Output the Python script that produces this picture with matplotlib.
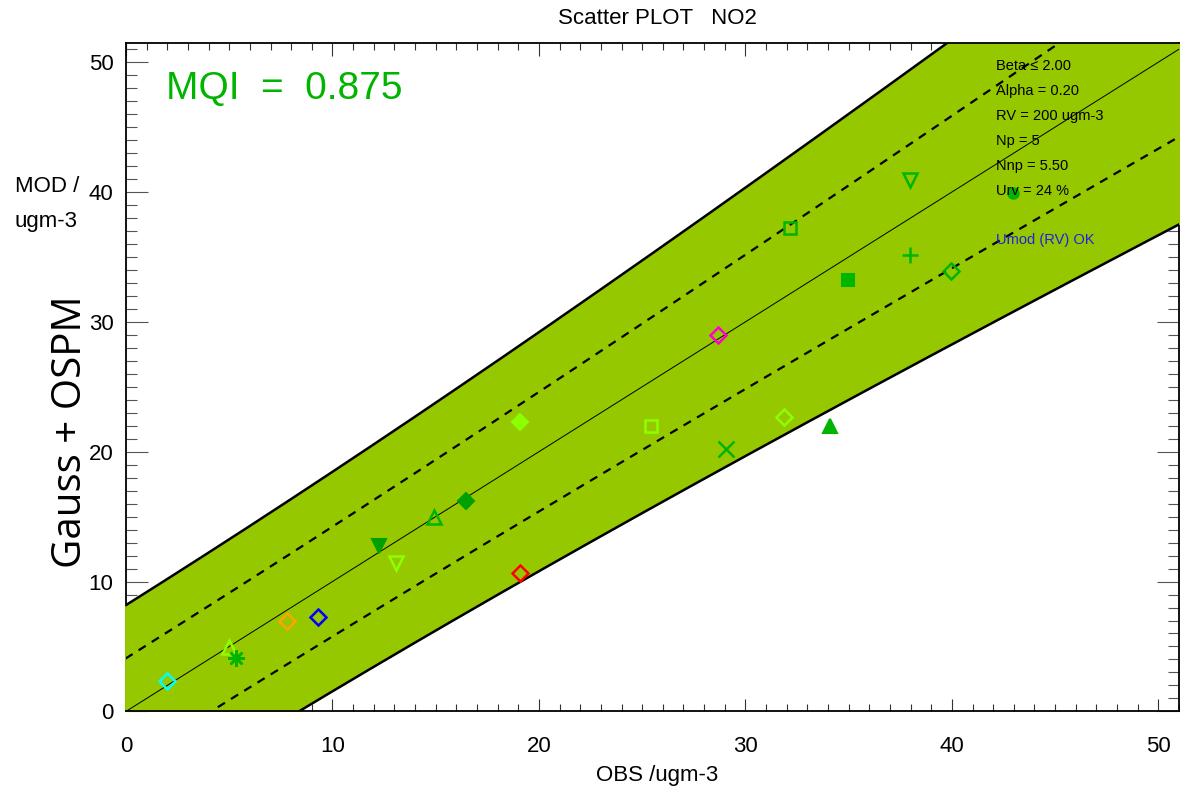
import numpy as np
import matplotlib
matplotlib.use("Agg")
import matplotlib.pyplot as plt

# uncertainty parameters (shown in the info box)
beta = 2.0
alpha = 0.20
rv = 200.0
n_p = 5
n_np = 5.5
u_rv = 0.24
mqi = 0.875

# station yearly means: observed vs modelled
obs = [2.0, 5.0, 5.33, 7.8, 9.28, 12.25, 13.07, 14.9, 16.45, 19.07, 19.1,
       25.43, 28.66, 29.08, 31.89, 34.08, 32.16, 34.97, 37.97, 37.97, 39.96, 42.95]
mod = [2.35, 4.94, 4.14, 6.97, 7.25, 12.77, 11.45, 14.96, 16.24, 22.28, 10.64,
       22.0, 29.0, 20.2, 22.71, 22.0, 37.23, 33.25, 40.96, 35.12, 33.89, 39.93]

# symbol per station
symbols = ["D", "^", (8, 2, 0), "D", "D", "v", "v", "^", "D", "D", "D",
           "s", "D", "x", "D", "^", "s", "s", "v", "+", "D", "o"]
colors = ["#00FFFF", "#8CFF00", "#00B400", "#FFA500", "#0000FF", "#00A000", "#8CFF00",
          "#00B400", "#00A000", "#8CFF00", "#FF0000", "#8CFF00", "#FF00C8", "#00B400",
          "#8CFF00", "#00B400", "#00B400", "#00B400", "#00B400", "#00B400", "#00B400",
          "#00B400"]
filled = [False, False, True, False, False, True, False, False, True, True, False,
          False, False, True, False, True, False, True, False, True, False, True]
sizes = {"D": 8.3, "^": 9.5, "v": 9.5, "s": 8.5, "o": 7.5, "x": 11, "+": 11.5}

info = ["Beta \u2264 2.00", "Alpha = 0.20", "RV = 200 ugm-3", "Np = 5",
        "Nnp = 5.50", "Urv = 24 %"]

plt.rcParams["font.family"] = ["Liberation Sans", "DejaVu Sans"]

W, H = 1180, 792
XMAX, YMAX = 51, 51.5
fig = plt.figure(figsize=(W / 100, H / 100), dpi=100)
ax = fig.add_axes([126 / W, 1 - 711.4 / H, 1053 / W, (711.4 - 42.7) / H])
ax.set_xlim(0, XMAX)
ax.set_ylim(0, YMAX)

# acceptance band: |M - O| <= beta * U(O)
o = np.linspace(-0.07, XMAX + 0.07, 1201)
unc = u_rv * np.sqrt((1 - alpha ** 2) * o ** 2 / n_p + alpha ** 2 * rv ** 2 / n_np)
up = np.clip(o + beta * unc, 0, YMAX)
lo = np.clip(o - beta * unc, 0, YMAX)

# band drawn slightly past the frame so it hides the side axes
ax.fill_between(o, lo, up, color="#96C800", lw=0, zorder=3, clip_on=False)
ax.plot(o, o + beta * unc, color="black", lw=1.8, zorder=3.1)
ax.plot(o, o - beta * unc, color="black", lw=1.8, zorder=3.1)
ax.plot(o, o + unc, color="black", lw=1.6, ls=(0, (3.8, 3.2)), zorder=3.2)
ax.plot(o, o - unc, color="black", lw=1.6, ls=(0, (3.8, 3.2)), zorder=3.2)
ax.plot(o, o, color="black", lw=0.7, zorder=3.2)

for x, y, m, c, f in zip(obs, mod, symbols, colors, filled):
    if isinstance(m, tuple):
        ax.plot(x, y, marker=m, ms=12, mew=1.8, color=c, ls="none", zorder=4)
    elif m in ("x", "+"):
        ax.plot(x, y, marker=m, ms=sizes[m], mew=1.8, color=c, ls="none", zorder=4)
    elif f:
        ax.plot(x, y, marker=m, ms=sizes[m], mew=1.5, mec=c, mfc=c, ls="none", zorder=4)
    else:
        ax.plot(x, y, marker=m, ms=sizes[m], mew=1.8, mec=c, mfc="none", ls="none", zorder=4)

# frame and ticks
for side in ("top", "bottom"):
    ax.spines[side].set_zorder(5)
for sp in ax.spines.values():
    sp.set_linewidth(1.3)
ax.set_xticks(np.arange(0, 51, 10))
ax.set_yticks(np.arange(0, 51, 10))
ax.set_xticks(np.arange(0, 52, 1), minor=True)
ax.set_yticks(np.arange(0, 52, 1), minor=True)
ax.tick_params(axis="x", which="major", direction="in", length=9, width=0.8,
               top=True, labelsize=16, pad=18, color="#333333")
ax.tick_params(axis="x", which="minor", direction="in", length=5, width=0.8,
               top=True, color="#333333")
ax.tick_params(axis="y", which="major", direction="in", length=16, width=0.8,
               right=True, labelsize=16, pad=9, color="#555555")
ax.tick_params(axis="y", which="minor", direction="in", length=8, width=0.8,
               right=True, color="#555555")

ax.text(1.95, 47.9, "MQI  =  " + f"{mqi:.3f}", color="#00B400",
        fontsize=28, va="center", ha="left", zorder=6)

for i, line in enumerate(info):
    fig.text(996 / W, 1 - (66 + i * 25) / H, line, fontsize=10.5, color="black",
             va="center", ha="left", zorder=6)
fig.text(996 / W, 1 - 240 / H, "Umod (RV) OK", fontsize=10.5, color="#2020E0",
         va="center", ha="left", zorder=6)

fig.text(657 / W, 1 - 18 / H, "Scatter PLOT   NO2", fontsize=16, ha="center", va="center")
fig.text(657 / W, 1 - 775 / H, "OBS /ugm-3", fontsize=16, ha="center", va="center")
fig.text(15 / W, 1 - 187 / H, "MOD /", fontsize=16, ha="left", va="center")
fig.text(15 / W, 1 - 222 / H, "ugm-3", fontsize=16, ha="left", va="center")
fig.text(71 / W, 1 - 432 / H, "Gauss + OSPM", fontsize=29, rotation=90,
         ha="center", va="center", family=["Open Sans", "DejaVu Sans"])

fig.savefig("out.png", dpi=100)
